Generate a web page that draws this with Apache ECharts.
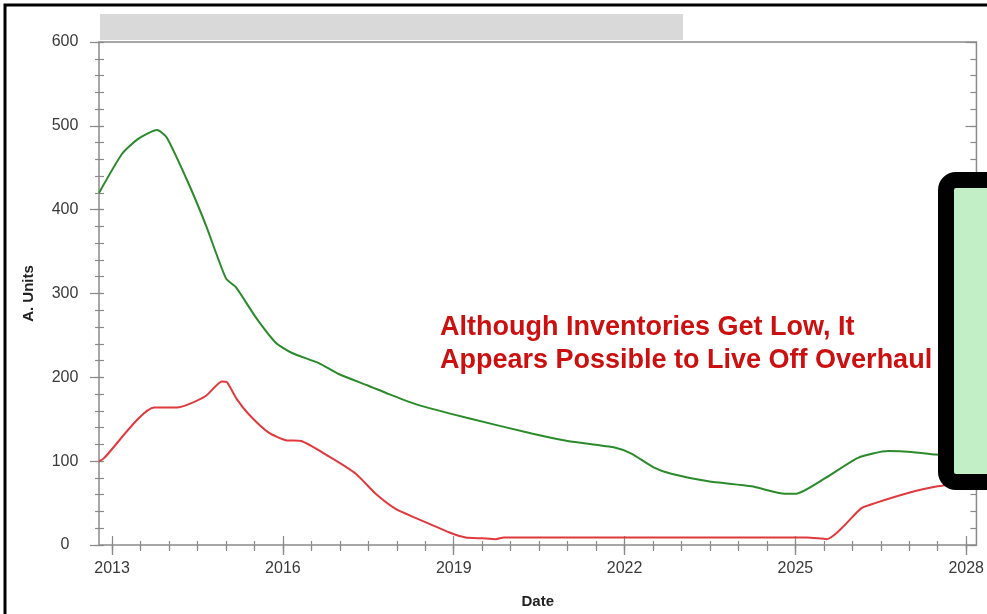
<!DOCTYPE html>
<html>
<head>
<meta charset="utf-8">
<script src="https://cdn.jsdelivr.net/npm/echarts@6/dist/echarts.min.js"></script>
<style>
html,body{margin:0;padding:0;background:#fff;}
#c{width:987px;height:614px;}
</style>
</head>
<body>
<div id="c"></div>
<script>
// ---- data ----
const greenDates = [2012.77,2013.18,2013.47,2013.79,2013.96,2014.35,2014.65,2015.0,2015.18,2015.53,2015.88,2016.16,2016.63,2016.98,2017.5,2017.86,2018.33,2019.21,2020.37,2021.0,2021.84,2022.12,2022.5,2022.82,2023.47,2024.23,2024.82,2025.0,2025.53,2026.1,2026.63,2027.04,2027.47,2028.18];
const greenUnits = [420,467,485,495,486,430,381,318,307,271,241,229,217,204,190,180,168,152,133,124,116,109,93,85,76,70,61,61,80,104,112,111,108,106];
const redDates = [2012.77,2012.85,2013.74,2014.14,2014.35,2014.65,2014.93,2015.02,2015.19,2015.4,2015.75,2016.05,2016.32,2016.8,2017.28,2017.63,2017.98,2018.44,2018.96,2019.21,2019.5,2019.74,2019.88,2025.2,2025.55,2026.16,2026.4,2026.98,2027.5,2028.18];
const redUnits = [100,103,164,164,168,178,195,194,174,156,134,125,124,106,85,61,43,29,14,9,8,7,9,9,7,44,50,62,70,76];
const xTickLabels = [2013,2016,2019,2022,2025,2028];
const yTickLabels = [0,100,200,300,400,500,600];
const xMin = 2012.77, xMax = 2028.18;
const noteLines = ['Although Inventories Get Low, It','Appears Possible to Live Off Overhaul'];

// minor tick positions
const xMinor = [];
for (let v = 2013; v <= 2028; v += 0.5) xMinor.push(v);
const yMinor = [];
for (let v = 0; v <= 600; v += 20) yMinor.push(v);

const AX = '#8a8a8a';
const FONT = 'Liberation Sans, Arial, sans-serif';
function xAx(pos, vals, len, inside, labels, extra) {
  return Object.assign({
    type: 'value', position: pos, min: xMin, max: xMax,
    axisLine: {show: false}, splitLine: {show: false},
    axisTick: {show: true, inside: inside, length: len, customValues: vals, lineStyle: {color: AX, width: 1.2}},
    axisLabel: labels ? {show: true, customValues: xTickLabels, formatter: v => String(v), color: '#3a3a3a', fontSize: 16, fontFamily: FONT, margin: 16} : {show: false}
  }, extra || {});
}
function yAx(pos, vals, len, inside, labels, extra) {
  return Object.assign({
    type: 'value', position: pos, min: 0, max: 600,
    axisLine: {show: false}, splitLine: {show: false},
    axisTick: {show: true, inside: inside, length: len, customValues: vals, lineStyle: {color: AX, width: 1.2}},
    axisLabel: labels ? {show: true, customValues: yTickLabels, color: '#3a3a3a', fontSize: 16, fontFamily: FONT, margin: 34, align: 'center'} : {show: false}
  }, extra || {});
}

const xAxes = [
  xAx('bottom', xTickLabels, 10, false, true, {name: 'Date', nameLocation: 'middle', nameGap: 49, nameTextStyle: {fontWeight: 'bold', fontSize: 15, color: '#222', fontFamily: FONT}}),
  xAx('bottom', xTickLabels, 9, true, false),
  xAx('bottom', xMinor, 4, false, false),
  xAx('bottom', xMinor, 4, true, false),
  xAx('top', xTickLabels, 10, true, false),
  xAx('top', xMinor, 6, true, false)
];
const yAxes = [
  yAx('left', yTickLabels, 9, false, true, {name: 'A. Units', nameLocation: 'middle', nameGap: 63, nameTextStyle: {fontWeight: 'bold', fontSize: 15, color: '#222', fontFamily: FONT}}),
  yAx('left', yTickLabels, 4, true, false),
  yAx('left', yMinor, 4, false, false),
  yAx('left', yMinor, 5, true, false),
  yAx('right', yTickLabels, 11, true, false),
  yAx('right', yMinor, 6, true, false)
];

const chart = echarts.init(document.getElementById('c'));
chart.setOption({
  animation: false,
  backgroundColor: '#fff',
  grid: {left: 99, right: 6, top: 42, bottom: 69, show: true, borderColor: AX, borderWidth: 1.5, backgroundColor: '#fff'},
  xAxis: xAxes,
  yAxis: yAxes,
  series: [
    {type: 'line', name: 'Green', data: greenDates.map((d, i) => [d, greenUnits[i]]), showSymbol: false, smooth: 0.2,
      lineStyle: {color: '#2b8a2b', width: 2}, itemStyle: {color: '#2b8a2b'}, z: 3},
    {type: 'line', name: 'Red', data: redDates.map((d, i) => [d, redUnits[i]]), showSymbol: false, smooth: 0.2,
      lineStyle: {color: '#e0393e', width: 2}, itemStyle: {color: '#e0393e'}, z: 3}
  ],
  graphic: [
    {type: 'rect', z: 10, shape: {x: 100, y: 14, width: 583, height: 26}, style: {fill: '#d9d9d9'}},
    {type: 'text', z: 50, left: 440, top: 311, style: {text: noteLines.join('\n'), fill: '#cc1010', font: 'bold 27px "Liberation Sans", Arial, sans-serif', lineHeight: 33}},
    {type: 'rect', z: 100, shape: {x: 946, y: 180, width: 120, height: 302, r: 10}, style: {fill: '#c3efc6', stroke: '#000', lineWidth: 16}},
    {type: 'rect', z: 100, shape: {x: 5, y: 5, width: 1200, height: 900}, style: {fill: 'none', stroke: '#000', lineWidth: 3}}
  ]
});
</script>
</body>
</html>
